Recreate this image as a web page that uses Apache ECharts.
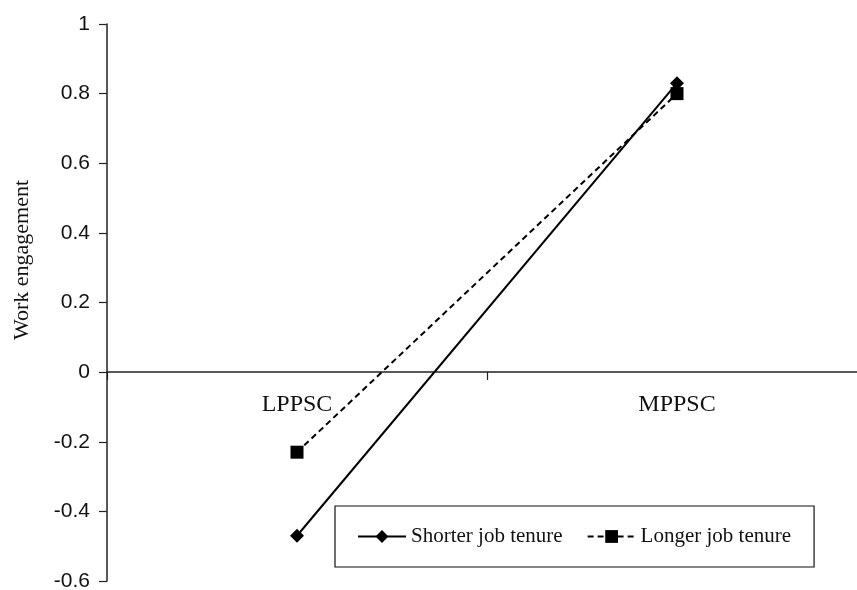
<!DOCTYPE html>
<html>
<head>
<meta charset="utf-8">
<script src="https://cdn.jsdelivr.net/npm/echarts@6/dist/echarts.min.js"></script>
<style>html,body{margin:0;padding:0;background:#fff;}#c{width:857px;height:590px;}</style>
</head>
<body>
<div id="c"></div>
<script>
const categories = ['LPPSC', 'MPPSC'];
const shorterTenure = [-0.47, 0.83];
const longerTenure = [-0.23, 0.80];
const seriesNames = ['Shorter job tenure', 'Longer job tenure'];
const yAxisTitle = 'Work engagement';

const chart = echarts.init(document.getElementById('c'));
chart.setOption({
  animation: false,
  backgroundColor: '#fff',
  grid: { left: 107, right: -10, top: 24, bottom: 9, containLabel: false, outerBoundsMode: 'none' },
  xAxis: {
    type: 'category',
    data: categories,
    boundaryGap: true,
    position: 'bottom',
    offset: -209,
    axisLine: { onZero: false, lineStyle: { color: '#222', width: 1.5 } },
    axisTick: { show: true, alignWithLabel: false, length: 8, lineStyle: { color: '#222', width: 1.2 } },
    axisLabel: { margin: 21, color: '#111', fontFamily: 'Liberation Serif', fontSize: 24 },
    splitLine: { show: false }
  },
  yAxis: {
    type: 'value',
    min: -0.6, max: 1, interval: 0.2,
    axisLine: { show: true, onZero: false, lineStyle: { color: '#222', width: 1.5 } },
    axisTick: { show: true, length: 8, lineStyle: { color: '#222', width: 1.2 } },
    axisLabel: { margin: 17, color: '#111', fontFamily: 'Liberation Sans', fontSize: 21,
      formatter: v => String(Math.round(v * 10) / 10) },
    splitLine: { show: false }
  },
  graphic: [{
    type: 'text',
    x: 22, y: 260,
    rotation: Math.PI / 2,
    style: { text: yAxisTitle, fill: '#111', font: '22px "Liberation Serif"', align: 'center', verticalAlign: 'middle' }
  }],
  legend: {
    left: 335, top: 506,
    orient: 'horizontal',
    padding: [20, 23, 20, 22],
    itemGap: 24,
    itemWidth: 48, itemHeight: 16,
    borderColor: '#111', borderWidth: 1.2,
    backgroundColor: '#fff',
    textStyle: { color: '#111', fontFamily: 'Liberation Serif', fontSize: 21 },
    data: seriesNames
  },
  series: [
    {
      name: seriesNames[0], type: 'line', data: shorterTenure,
      symbol: 'diamond', symbolSize: 14,
      lineStyle: { color: '#000', width: 2, type: 'solid' },
      itemStyle: { color: '#000' }, z: 3
    },
    {
      name: seriesNames[1], type: 'line', data: longerTenure,
      symbol: 'rect', symbolSize: 13,
      lineStyle: { color: '#000', width: 2, type: [6, 4] },
      itemStyle: { color: '#000' }, z: 2
    }
  ]
});
</script>
</body>
</html>
